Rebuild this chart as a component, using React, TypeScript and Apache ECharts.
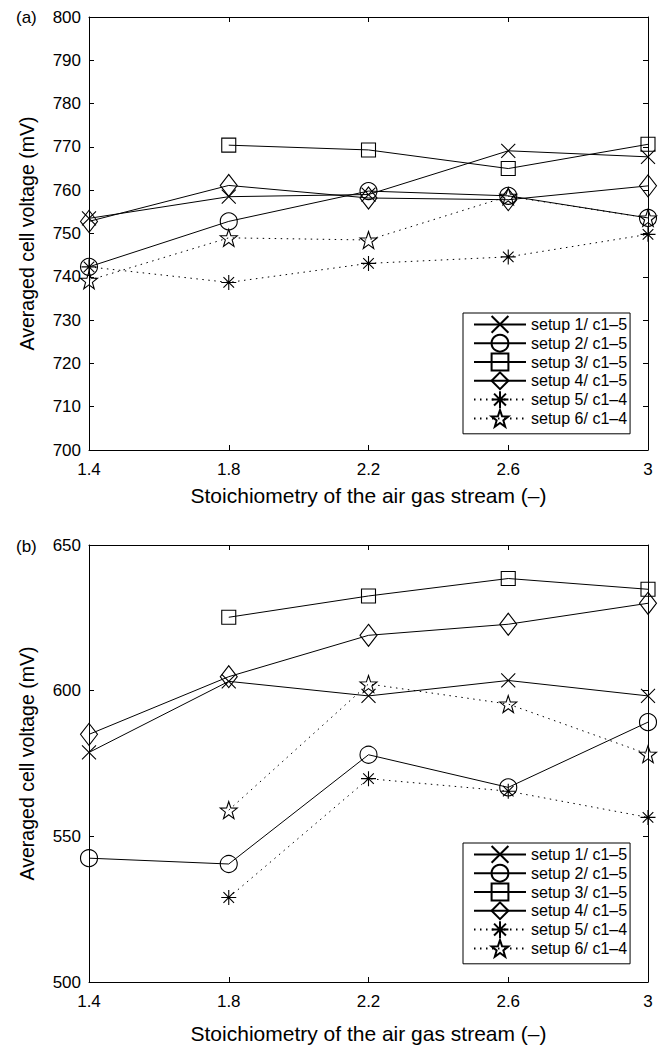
import React, { useEffect, useRef } from "react";
import * as echarts from "echarts";

const xCategories = ["1.4", "1.8", "2.2", "2.6", "3"];
const seriesNames = [
  "setup 1/ c1–5",
  "setup 2/ c1–5",
  "setup 3/ c1–5",
  "setup 4/ c1–5",
  "setup 5/ c1–4",
  "setup 6/ c1–4",
];

// Panel (a)
const topSetup1 = [753.5, 758.5, 759.0, 769.1, 767.7];
const topSetup2 = [742.3, 752.8, 759.8, 758.7, 753.6];
const topSetup3 = [null, 770.4, 769.3, 765.0, 770.6];
const topSetup4 = [752.8, 761.1, 758.2, 757.8, 761.0];
const topSetup5 = [742.3, 738.7, 743.1, 744.6, 749.8];
const topSetup6 = [739.2, 749.0, 748.5, 758.6, 753.6];

// Panel (b)
const botSetup1 = [578.8, 603.2, 598.2, 603.5, 598.2];
const botSetup2 = [542.5, 540.5, 578.0, 566.8, 589.2];
const botSetup3 = [null, 625.2, 632.5, 638.5, 634.8];
const botSetup4 = [585.0, 604.8, 619.0, 622.8, 630.0];
const botSetup5 = [null, 529.0, 569.8, 565.5, 556.5];
const botSetup6 = [null, 559.0, 602.3, 595.4, 578.2];

const topYTicks = { min: 700, max: 800, interval: 10 };
const botYTicks = { min: 500, max: 650, interval: 50 };

const FONT = "Liberation Sans, Arial, sans-serif";

const CROSS = "path://M0,0L20,20M0,20L20,0";
const ASTER = "path://M0,10L20,10M10,0L10,20M2.93,2.93L17.07,17.07M2.93,17.07L17.07,2.93";
const STAR =
  "path://M10,0L12.35,6.76L19.51,6.91L13.8,11.24L15.88,18.09L10,14L4.12,18.09L6.2,11.24L0.49,6.91L7.65,6.76Z";

const symbols: any[] = [CROSS, "circle", "rect", "diamond", ASTER, STAR];
const symbolSizes: any[] = [14, 17, 14, [17, 22], 15, 17];
const dotted = [1.5, 4.5];

export default function App() {
  const ref = useRef<HTMLDivElement>(null);
  useEffect(() => {
    if (!ref.current) return;
    const chart = echarts.init(ref.current, null, { renderer: "svg" });

    const grids = [
      { left: 89, right: 16, top: 17, height: 433 },
      { left: 89, right: 16, top: 545, height: 437 },
    ];
    const nameGaps = [35, 41];

    const xAxes: any[] = [];
    const yAxes: any[] = [];
    const yRanges = [topYTicks, botYTicks];
    grids.forEach((_, gi) => {
      xAxes.push({
        type: "category",
        gridIndex: gi,
        data: xCategories,
        boundaryGap: false,
        position: "bottom",
        axisLine: { show: true, lineStyle: { color: "#000", width: 1 } },
        axisTick: { show: true, inside: true, length: 5, lineStyle: { color: "#000" } },
        axisLabel: { color: "#000", fontSize: 17, fontFamily: FONT, margin: 11 },
        splitLine: { show: false },
        name: "Stoichiometry of the air gas stream (–)",
        nameLocation: "middle",
        nameGap: nameGaps[gi],
        nameTextStyle: { color: "#000", fontSize: 21, fontFamily: FONT },
      });
      xAxes.push({
        type: "category",
        gridIndex: gi,
        data: xCategories,
        boundaryGap: false,
        position: "top",
        axisLine: { show: true, lineStyle: { color: "#000", width: 1 } },
        axisTick: { show: true, inside: true, length: 5, lineStyle: { color: "#000" } },
        axisLabel: { show: false },
        splitLine: { show: false },
      });
      const r = yRanges[gi];
      yAxes.push({
        type: "value",
        gridIndex: gi,
        min: r.min,
        max: r.max,
        interval: r.interval,
        position: "left",
        axisLine: { show: true, lineStyle: { color: "#000", width: 1 } },
        axisTick: { show: true, inside: true, length: 5, lineStyle: { color: "#000" } },
        axisLabel: { color: "#000", fontSize: 17, fontFamily: FONT, margin: 8 },
        splitLine: { show: false },
        name: "Averaged cell voltage (mV)",
        nameLocation: "middle",
        nameRotate: 90,
        nameGap: 52,
        nameTextStyle: { color: "#000", fontSize: 19.5, fontFamily: FONT },
      });
      yAxes.push({
        type: "value",
        gridIndex: gi,
        min: r.min,
        max: r.max,
        interval: r.interval,
        position: "right",
        axisLine: { show: true, lineStyle: { color: "#000", width: 1 } },
        axisTick: { show: true, inside: true, length: 5, lineStyle: { color: "#000" } },
        axisLabel: { show: false },
        splitLine: { show: false },
      });
    });

    const topData = [topSetup1, topSetup2, topSetup3, topSetup4, topSetup5, topSetup6];
    const botData = [botSetup1, botSetup2, botSetup3, botSetup4, botSetup5, botSetup6];
    const series: any[] = [];
    [topData, botData].forEach((set, gi) => {
      set.forEach((d, i) => {
        series.push({
          type: "line",
          name: seriesNames[i],
          xAxisIndex: gi * 2,
          yAxisIndex: gi * 2,
          data: d,
          symbol: symbols[i],
          symbolSize: symbolSizes[i],
          showSymbol: true,
          connectNulls: false,
          lineStyle: { color: "#000", width: 1, type: i >= 4 ? dotted : "solid" },
          itemStyle: { color: "rgba(0,0,0,0)", borderColor: "#000", borderWidth: 1.1 },
          emphasis: { disabled: true },
        });
      });
    });

    const legendBase = {
      orient: "vertical",
      left: 463,
      data: seriesNames,
      itemWidth: 52,
      itemHeight: 21,
      itemGap: 0,
      padding: [2, 3, 6, 10],
      borderColor: "#000",
      borderWidth: 1,
      borderRadius: 0,
      backgroundColor: "#fff",
      selectedMode: false,
      textStyle: { color: "#000", fontSize: 16, fontFamily: FONT },
    };

    chart.setOption({
      animation: false,
      backgroundColor: "#fff",
      grid: grids,
      xAxis: xAxes,
      yAxis: yAxes,
      series,
      legend: [
        { ...legendBase, top: 313 },
        { ...legendBase, top: 843 },
      ],
      graphic: [
        { type: "text", left: 16, top: 9, style: { text: "(a)", fontSize: 17, fontFamily: FONT, fill: "#000" } },
        { type: "text", left: 16, top: 538, style: { text: "(b)", fontSize: 17, fontFamily: FONT, fill: "#000" } },
      ],
    });
    return () => chart.dispose();
  }, []);
  return (
    <div
      ref={ref}
      style={{ position: "fixed", left: 0, top: 0, width: 664, height: 1046, background: "#fff" }}
    />
  );
}
